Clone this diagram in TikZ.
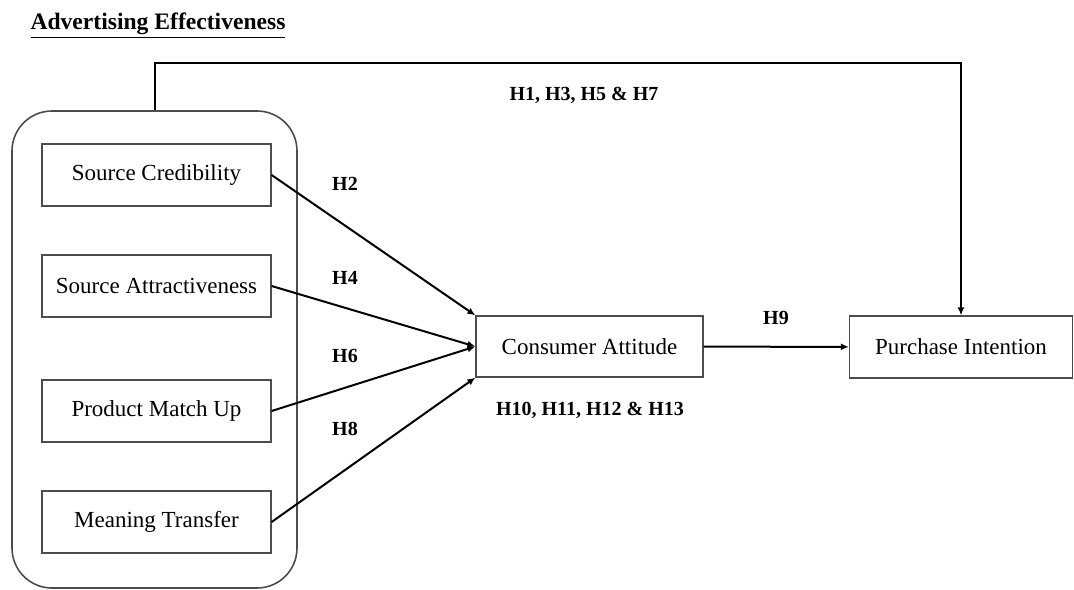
\documentclass[tikz,border=0pt]{standalone}
\usepackage{fontspec}
\setmainfont{Liberation Serif}
\usepackage{tikz}
\usetikzlibrary{arrows.meta, positioning, calc}

\tikzset{
  constructbox/.style={draw=black!70, line width=0.6pt, fill=white, minimum width=114.5pt, minimum height=31pt, inner sep=2pt, font=\fontsize{11.5}{13}\selectfont},
  hypolabel/.style={font=\fontsize{10}{12}\selectfont\bfseries, inner sep=1pt},
  pathlink/.style={-{Latex[length=4pt, width=3.5pt]}, line width=1pt, black}
}

\begin{document}
\begin{tikzpicture}[x=0.5pt, y=-0.5pt]
    \useasboundingbox (0,0) rectangle (1074,589);

    % Title
    \node[font=\fontsize{11.8}{14}\selectfont\bfseries] (title) at (158,26) {\underline{Advertising Effectiveness}};

    % Advertising effectiveness group
    \node[draw=black!70, line width=0.8pt, rounded corners=20pt, minimum width=142.5pt, minimum height=238.5pt] (group) at (154.5,349.5) {};

    % Antecedents
    \node[constructbox] (credibility) at (156.5,175) {Source Credibility};
    \node[constructbox] (attractive) at (156.5,286) {Source Attractiveness};
    \node[constructbox] (matchup) at (156.5,411) {Product Match Up};
    \node[constructbox] (meaning) at (156.5,522) {Meaning Transfer};

    % Outcomes
    \node[constructbox, minimum width=113.5pt, minimum height=30.5pt] (attitude) at (589.5,346.5) {Consumer Attitude};
    \node[constructbox, minimum width=111.5pt] (intention) at (961,347) {Purchase Intention};

    % Hypotheses
    \node[hypolabel] (h2) at (345,184) {H2};
    \node[hypolabel] (h4) at (345,278) {H4};
    \node[hypolabel] (h6) at (345,356) {H6};
    \node[hypolabel] (h8) at (345,429) {H8};
    \node[hypolabel] (h9) at (776,318) {H9};
    \node[hypolabel] (hdirect) at (584,95) {H1, H3, H5 \& H7};
    \node[hypolabel] (hmediate) at (590,410) {H10, H11, H12 \& H13};

    \coordinate (bend) at (961,63);

    \draw[pathlink] (credibility.east) -- (attitude.north west);
    \draw[pathlink] (attractive.east) -- (attitude.west);
    \draw[pathlink] (matchup.east) -- (attitude.west);
    \draw[pathlink] (meaning.east) -- (attitude.south west);
    \draw[pathlink] (attitude) -- (intention);
    \draw[pathlink] (group.north) |- (bend) -- (intention.north);
\end{tikzpicture}
\end{document}
